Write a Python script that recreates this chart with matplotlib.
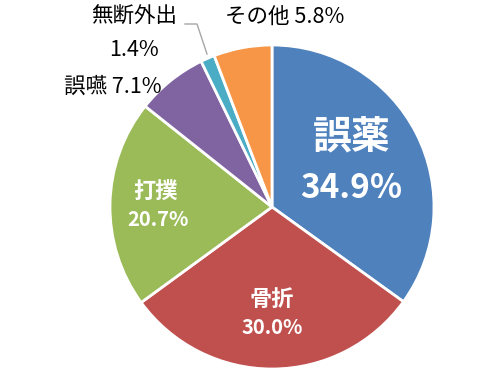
import matplotlib
matplotlib.use('Agg')
from matplotlib import pyplot as plt

plt.rcParams['font.family'] = ['Noto Sans CJK JP', 'DejaVu Sans']

# data
categories = ['誤薬', '骨折', '打撲', '誤嚥', '無断外出', 'その他']
shares = [34.9, 30.0, 20.7, 7.1, 1.4, 5.8]
colors = ['#4F81BD', '#C0504D', '#9BBB59', '#8064A2', '#4BACC6', '#F79646']

H = 377  # figure height in px, text placed in pixel coords from top

fig = plt.figure(figsize=(5, 3.77), dpi=100)
ax = fig.add_axes([0, 0, 1, 1])

ax.pie(shares, colors=colors, startangle=90, counterclock=False,
       center=(272, H - 207), radius=162,
       wedgeprops=dict(edgecolor='white', linewidth=2))
ax.set_xlim(0, 500)
ax.set_ylim(0, H)
ax.set_aspect('equal')
ax.axis('off')

def put(x, y, s, **kw):
    ax.text(x, H - y, s, ha='center', va='center', **kw)

# inside labels (white, bold)
put(352, 137, categories[0], color='white', fontsize=28, fontweight='bold')
put(351, 188, f'{shares[0]}%', color='white', fontsize=24, fontweight='bold')
put(272, 300, categories[1], color='white', fontsize=16, fontweight='bold')
put(272, 328, f'{shares[1]}%', color='white', fontsize=14.5, fontweight='bold')
put(156, 191, categories[2], color='white', fontsize=16, fontweight='bold')
put(158, 220, f'{shares[2]}%', color='white', fontsize=14.5, fontweight='bold')

# outside labels
put(113, 87, f'{categories[3]} {shares[3]}%', fontsize=15.5)
put(134, 17, categories[4], fontsize=15.5)
put(134, 50, f'{shares[4]}%', fontsize=15.5)
put(285, 17, f'{categories[5]} {shares[5]}%', fontsize=15.5)
ax.plot([185, 197, 207], [H - 24, H - 24, H - 54], color='#A6A6A6', lw=1)

fig.savefig('out.png', dpi=100)
